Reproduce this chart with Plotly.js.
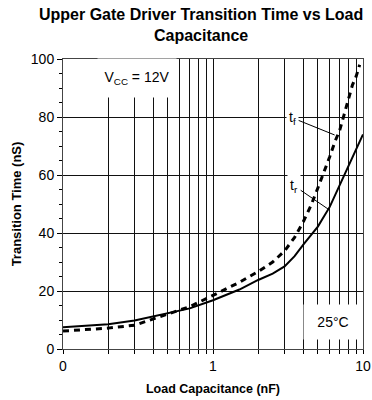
<!DOCTYPE html>
<html>
<head>
<meta charset="utf-8">
<script src="https://cdn.plot.ly/plotly-3.0.1.min.js"></script>
<style>html,body{margin:0;padding:0;background:#fff;}#chart{width:372px;height:400px;}</style>
</head>
<body>
<div id="chart"></div>
<script>
// Rise time t_r (solid)
var capRise = [0.1, 0.2, 0.3, 0.5, 0.7, 1, 1.5, 2, 2.5, 3, 3.5, 4, 5, 6, 7, 8, 9, 10];
var riseTime = [7.5, 8.5, 9.8, 12.3, 14, 16.8, 20.5, 23.8, 26, 28.5, 32, 36, 42.2, 49, 56.6, 63, 69.2, 74];
// Fall time t_f (dashed)
var capFall = [0.1, 0.2, 0.3, 0.5, 0.7, 1, 1.5, 2, 2.5, 3, 3.5, 4, 4.5, 5, 5.5, 6, 6.5, 7, 7.5, 8, 8.5, 9, 9.5];
var fallTime = [6.2, 7.2, 8.2, 12.2, 14.6, 18.5, 23, 26.7, 30, 33.8, 38.5, 43.9, 49.5, 55.5, 61, 66.3, 71.5, 75.5, 81, 86, 91, 94, 98];
// Axis ticks
var xTickVals = [0.1, 0.2, 0.3, 0.4, 0.5, 0.6, 0.7, 0.8, 0.9, 1, 2, 3, 4, 5, 6, 7, 8, 9, 10];
var xTickText = ["0", "", "", "", "", "", "", "", "", "1", "", "", "", "", "", "", "", "", "10"];
var yTickVals = [0, 20, 40, 60, 80, 100];

var FONT = "Arial, 'Liberation Sans', sans-serif";

var traces = [
  {x: capRise, y: riseTime, type: 'scatter', mode: 'lines', name: 't_r',
   line: {color: '#000', width: 2}},
  {x: capFall, y: fallTime, type: 'scatter', mode: 'lines', name: 't_f',
   line: {color: '#000', width: 3, dash: '6px,5px'}}
];

var layout = {
  width: 372, height: 400,
  margin: {l: 63, r: 9, t: 59, b: 51},
  paper_bgcolor: '#fff', plot_bgcolor: '#fff',
  showlegend: false,
  font: {family: FONT, color: '#000', size: 13},
  xaxis: {
    type: 'log', range: [-1, 1],
    tickmode: 'array', tickvals: xTickVals, ticktext: xTickText,
    ticks: 'outside', ticklen: 4, tickcolor: '#000', tickwidth: 1,
    showgrid: true, gridcolor: '#111', gridwidth: 1,
    showline: true, linecolor: '#444', linewidth: 1, mirror: true,
    zeroline: false,
    tickfont: {family: FONT, size: 14, color: '#000'},
    title: {text: 'Load Capacitance (nF)', standoff: 11,
            font: {family: FONT, size: 12.5, weight: 'bold', color: '#000'}},
    automargin: false
  },
  yaxis: {
    range: [0, 100],
    tickmode: 'array', tickvals: yTickVals,
    ticks: 'outside', ticklen: 5, tickcolor: '#000', tickwidth: 1,
    minor: {dtick: 5, ticks: 'outside', ticklen: 3, tickcolor: '#000', showgrid: false},
    showgrid: true, gridcolor: '#111', gridwidth: 1,
    showline: true, linecolor: '#444', linewidth: 1, mirror: true,
    zeroline: false,
    tickfont: {family: FONT, size: 14, color: '#000'},
    title: {text: 'Transition Time (nS)', standoff: 6,
            font: {family: FONT, size: 13, weight: 'bold', color: '#000'}},
    automargin: false
  },
  annotations: [
    {x: 0.46, y: 1.19, xref: 'paper', yref: 'paper', xanchor: 'center', yanchor: 'top',
     text: '<b>Upper Gate Driver Transition Time vs Load<br>Capacitance</b>',
     showarrow: false, font: {family: FONT, size: 16, color: '#000'}},
    {x: -0.505, y: 93.4, xref: 'x', yref: 'y', text: 'V<sub>CC</sub> = 12V',
     showarrow: false, bgcolor: '#fff', width: 76, height: 36,
     font: {family: FONT, size: 14, color: '#000'}},
    {x: 0.798, y: 9.3, xref: 'x', yref: 'y', text: '25°C',
     showarrow: false, bgcolor: '#fff', width: 56, height: 32,
     font: {family: FONT, size: 14, color: '#000'}},
    {x: Math.log10(6.47), y: 73.8, xref: 'x', yref: 'y', text: 't<sub>f</sub>',
     showarrow: true, arrowhead: 0, arrowwidth: 1, arrowcolor: '#000',
     ax: -42, ay: -17, bgcolor: '#fff', borderpad: 2,
     font: {family: FONT, size: 14, color: '#000'}},
    {x: Math.log10(5.95), y: 48, xref: 'x', yref: 'y', text: 't<sub>r</sub>',
     showarrow: true, arrowhead: 0, arrowwidth: 1, arrowcolor: '#000',
     ax: -35, ay: -24, bgcolor: '#fff', borderpad: 2,
     font: {family: FONT, size: 14, color: '#000'}}
  ]
};

Plotly.newPlot('chart', traces, layout, {displayModeBar: false, staticPlot: true});
</script>
</body>
</html>
